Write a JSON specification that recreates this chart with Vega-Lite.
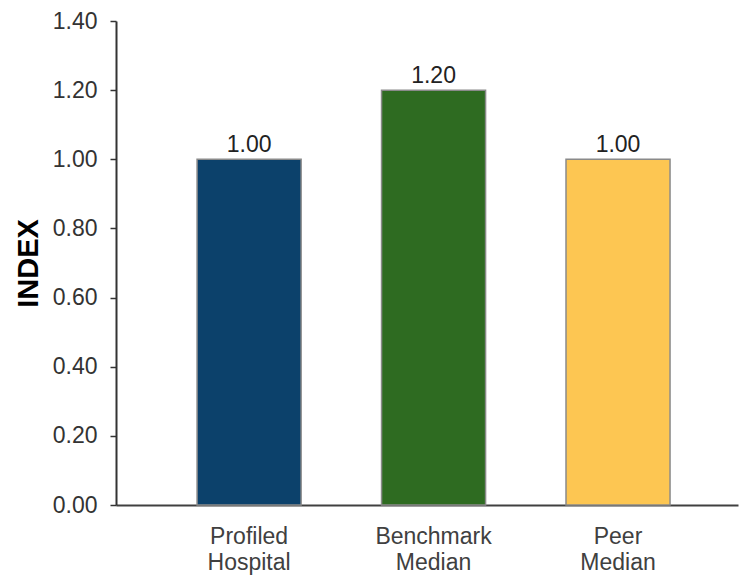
{
  "$schema": "https://vega.github.io/schema/vega-lite/v6.json",
  "autosize": "none",
  "width": 622,
  "height": 484,
  "padding": {"left": 116, "top": 21, "right": 2, "bottom": 71},
  "config": {
    "view": {"stroke": null},
    "font": "Arial, Liberation Sans, sans-serif"
  },
  "data": {
    "values": [
      {"group": "Profiled Hospital", "index": 1.0},
      {"group": "Benchmark Median", "index": 1.2},
      {"group": "Peer Median", "index": 1.0}
    ]
  },
  "encoding": {
    "x": {
      "field": "group",
      "type": "nominal",
      "sort": null,
      "scale": {"paddingInner": 0.436, "paddingOuter": 0.404, "align": 0.544},
      "axis": {
        "title": null,
        "labelAngle": 0,
        "labelExpr": "split(datum.label, ' ')",
        "labelFontSize": 23,
        "labelColor": "#404040",
        "labelLineHeight": 26,
        "labelPadding": 20,
        "ticks": false,
        "domainColor": "#404040",
        "domainWidth": 2
      }
    },
    "y": {
      "field": "index",
      "type": "quantitative",
      "scale": {"domain": [0, 1.4], "nice": false},
      "axis": {
        "title": "INDEX",
        "titleFontSize": 29,
        "titleFontWeight": "bold",
        "titleColor": "#000000",
        "titlePadding": 9,
        "values": [0, 0.2, 0.4, 0.6, 0.8, 1.0, 1.2, 1.4],
        "format": ".2f",
        "labelFontSize": 23,
        "labelColor": "#333333",
        "labelPadding": 13,
        "grid": false,
        "tickSize": 6,
        "tickColor": "#333333",
        "tickWidth": 1.5,
        "domainColor": "#333333",
        "domainWidth": 2
      }
    }
  },
  "layer": [
    {
      "mark": {"type": "bar", "stroke": "#8a8a8a", "strokeWidth": 1.5},
      "encoding": {
        "color": {
          "field": "group",
          "type": "nominal",
          "scale": {
            "domain": ["Profiled Hospital", "Benchmark Median", "Peer Median"],
            "range": ["#0c416b", "#2e6b21", "#fdc652"]
          },
          "legend": null
        }
      }
    },
    {
      "mark": {"type": "text", "baseline": "alphabetic", "dy": -7, "fontSize": 23, "color": "#222222"},
      "encoding": {
        "text": {"field": "index", "type": "quantitative", "format": ".2f"}
      }
    }
  ]
}
